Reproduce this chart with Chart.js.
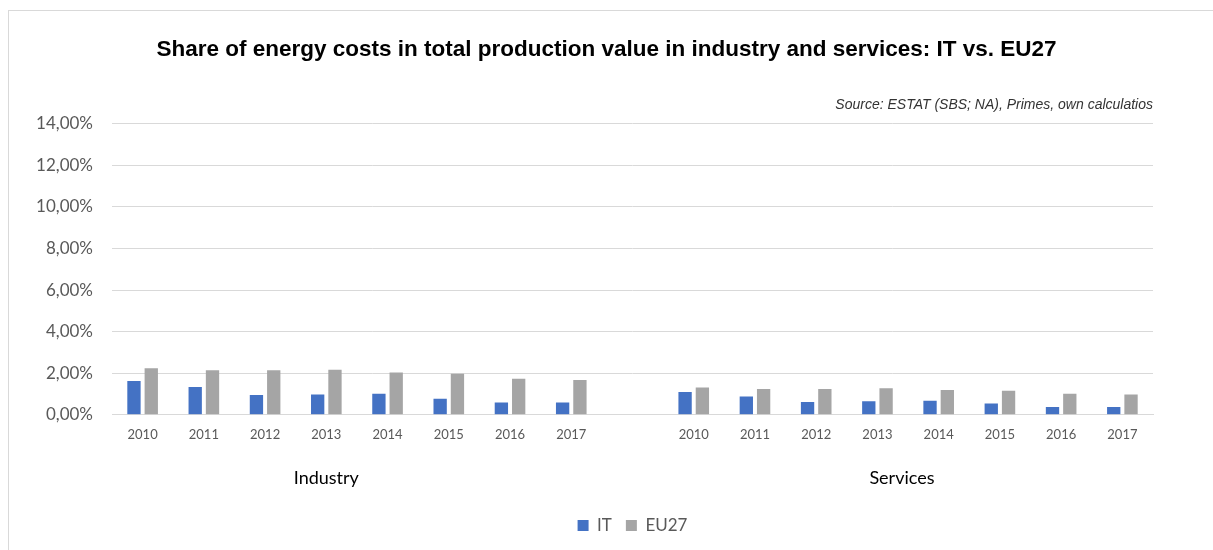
<!DOCTYPE html>
<html>
<head>
<meta charset="utf-8">
<script src="https://cdn.jsdelivr.net/npm/chart.js@4"></script>
<style>
  html, body { margin: 0; padding: 0; background: #fff; }
  #wrap { position: relative; width: 1213px; height: 550px; }
  #frame { position: absolute; left: 8px; top: 10px; right: -2px; bottom: -2px;
           border-left: 1px solid #d9d9d9; border-top: 1px solid #d9d9d9; pointer-events: none; }
</style>
</head>
<body>
<div id="wrap">
  <canvas id="c" width="1213" height="550"></canvas>
  <div id="frame"></div>
</div>
<script>
// ---- data ----
const years = ['2010', '2011', '2012', '2013', '2014', '2015', '2016', '2017'];
const groups = ['Industry', 'Services'];
const seriesNames = ['IT', 'EU27'];
const itIndustry   = [0.0163, 0.0134, 0.0095, 0.0098, 0.0101, 0.0077, 0.0059, 0.0059];
const euIndustry   = [0.0224, 0.0214, 0.0214, 0.0217, 0.0203, 0.0198, 0.0173, 0.0167];
const itServices   = [0.0110, 0.0088, 0.0062, 0.0065, 0.0067, 0.0054, 0.0038, 0.0038];
const euServices   = [0.0131, 0.0124, 0.0124, 0.0128, 0.0119, 0.0116, 0.0101, 0.0098];
const yTicksMax = 0.14;
const yStep = 0.02;

// combined categories: industry years, one blank slot, services years
const labels = [...years, '', ...years];
const itData = [...itIndustry, null, ...itServices];
const euData = [...euIndustry, null, ...euServices];
// where the group captions sit along the category axis (index units)
const groupLabelPos = [3.0, 12.4];

const txt = '#595959';
const grid = '#d9d9d9';

new Chart(document.getElementById('c'), {
  type: 'bar',
  data: {
    labels: labels,
    datasets: [
      { label: seriesNames[0], data: itData, backgroundColor: '#4472c4',
        categoryPercentage: 0.565, barPercentage: 0.77 },
      { label: seriesNames[1], data: euData, backgroundColor: '#a5a5a5',
        categoryPercentage: 0.565, barPercentage: 0.77 }
    ]
  },
  options: {
    responsive: false,
    animation: false,
    devicePixelRatio: 1,
    layout: { padding: { top: 28, left: 35, right: 35, bottom: 6 } },
    plugins: {
      title: {
        display: true,
        text: 'Share of energy costs in total production value in industry and services: IT vs. EU27',
        font: { family: 'Liberation Sans', size: 22.5, weight: 'bold' },
        color: '#000',
        padding: { top: 8, bottom: 34 }
      },
      subtitle: {
        display: true,
        fullSize: false,
        text: 'Source: ESTAT (SBS; NA), Primes, own calculatios',
        align: 'end',
        font: { family: 'Liberation Sans', size: 14, style: 'italic' },
        color: '#333',
        padding: { top: 0, bottom: 10 }
      },
      legend: {
        position: 'bottom',
        fullSize: false,
        labels: {
          boxWidth: 11, boxHeight: 11,
          font: { family: 'Lato', size: 17 },
          color: txt,
          padding: 14
        }
      },
      tooltip: { enabled: false }
    },
    scales: {
      y: {
        min: 0, max: yTicksMax,
        ticks: {
          stepSize: yStep,
          padding: 19,
          color: txt,
          font: { family: 'Lato', size: 17 },
          callback: v => (v * 100).toFixed(2).replace('.', ',') + '%'
        },
        grid: { color: grid, drawTicks: false, lineWidth: 1 },
        border: { display: false },
        afterFit: s => { s.width = 77; }
      },
      yR: {
        position: 'right',
        display: true,
        ticks: { display: false },
        grid: { display: false, drawTicks: false },
        border: { display: false },
        afterFit: s => { s.width = 25; }
      },
      x: {
        ticks: {
          padding: 12,
          color: txt,
          font: { family: 'Lato', size: 13 },
          maxRotation: 0, autoSkip: false
        },
        grid: { display: false, drawTicks: false },
        border: { display: true, color: grid, width: 1 }
      },
      x2: {
        type: 'linear',
        position: 'bottom',
        offset: false,
        min: -0.5, max: labels.length - 0.5,
        afterBuildTicks: s => { s.ticks = groupLabelPos.map(v => ({ value: v })); },
        ticks: {
          padding: 13,
          color: '#000',
          font: { family: 'Lato', size: 18 },
          maxRotation: 0, autoSkip: false,
          callback: (v, i) => groups[i]
        },
        grid: { display: false, drawTicks: false },
        border: { display: false },
        afterFit: s => { s.height += 1; }
      }
    }
  }
});
</script>
</body>
</html>
